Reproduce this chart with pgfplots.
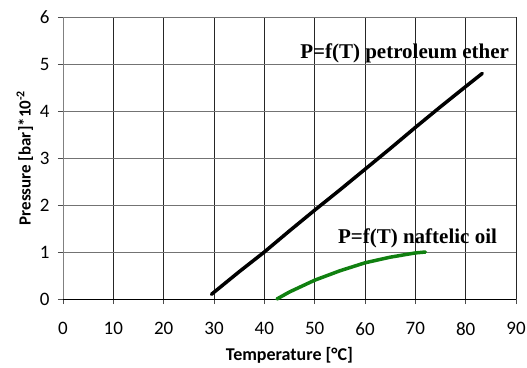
\documentclass[border=0pt]{standalone}
\usepackage{pgfplots}
\pgfplotsset{compat=1.18}
\usepackage{fontspec}
\setmainfont{Liberation Serif}
\newfontfamily\carlito{Carlito}
\definecolor{oilgreen}{RGB}{16,128,16}
\begin{document}
\begin{tikzpicture}
\begin{axis}[
  scale only axis,
  width=453pt, height=282pt,
  xmin=0, xmax=90, ymin=0, ymax=6,
  xtick={0,10,...,90}, ytick={0,1,...,6},
  axis x line=bottom, axis y line=left,
  axis line style={-},
  x axis line style={black, line width=0.8pt},
  y axis line style={gray, line width=0.8pt},
  tick align=outside,
  major tick length=5pt,
  tick style={black!70, line width=0.6pt},
  xmajorgrids, ymajorgrids,
  x grid style={black!85, line width=0.6pt},
  y grid style={black!55, line width=0.6pt},
  /pgf/number format/assume math mode=true,
  tick label style={font=\carlito\fontsize{19}{19}\selectfont, black},
  xticklabel style={yshift=-15pt},
  yticklabel style={xshift=-5pt},
  xlabel={\carlito\bfseries\fontsize{18}{18}\selectfont Temperature [\textdegree C]},
  ylabel={\carlito\bfseries\fontsize{17}{17}\selectfont Pressure [bar]*10\textsuperscript{-2}},
  xlabel style={at={(axis description cs:0.5,0)}, anchor=center, yshift=-56pt},
  ylabel style={at={(axis description cs:-0.084,0.5)}, anchor=center},
  clip=false,
]
\addplot[black, line width=3.5pt, line cap=round] coordinates {
(29.5,0.10) (35,0.58) (40,1.00) (45,1.45) (50,1.89) (55,2.32) (60,2.76) (65,3.20) (70,3.65) (75,4.09) (80,4.52) (83.3,4.80)
};
\addplot[oilgreen, line width=3.5pt, line cap=round] coordinates {
(42.5,0.00) (45,0.15) (50,0.40) (55,0.60) (60,0.77) (65,0.89) (70,0.98) (72,1.00)
};
\node[anchor=base west, inner sep=0pt, font=\bfseries\fontsize{21}{21}\selectfont] at (axis cs:47.1,5.11) {P=f(T) petroleum ether};
\node[anchor=base west, inner sep=0pt, font=\bfseries\fontsize{21}{21}\selectfont] at (axis cs:54.6,1.19) {P=f(T) naftelic oil};
\end{axis}
\pgfresetboundingbox
\path (-63pt,-68pt) rectangle (464pt,299pt);
\end{tikzpicture}
\end{document}
